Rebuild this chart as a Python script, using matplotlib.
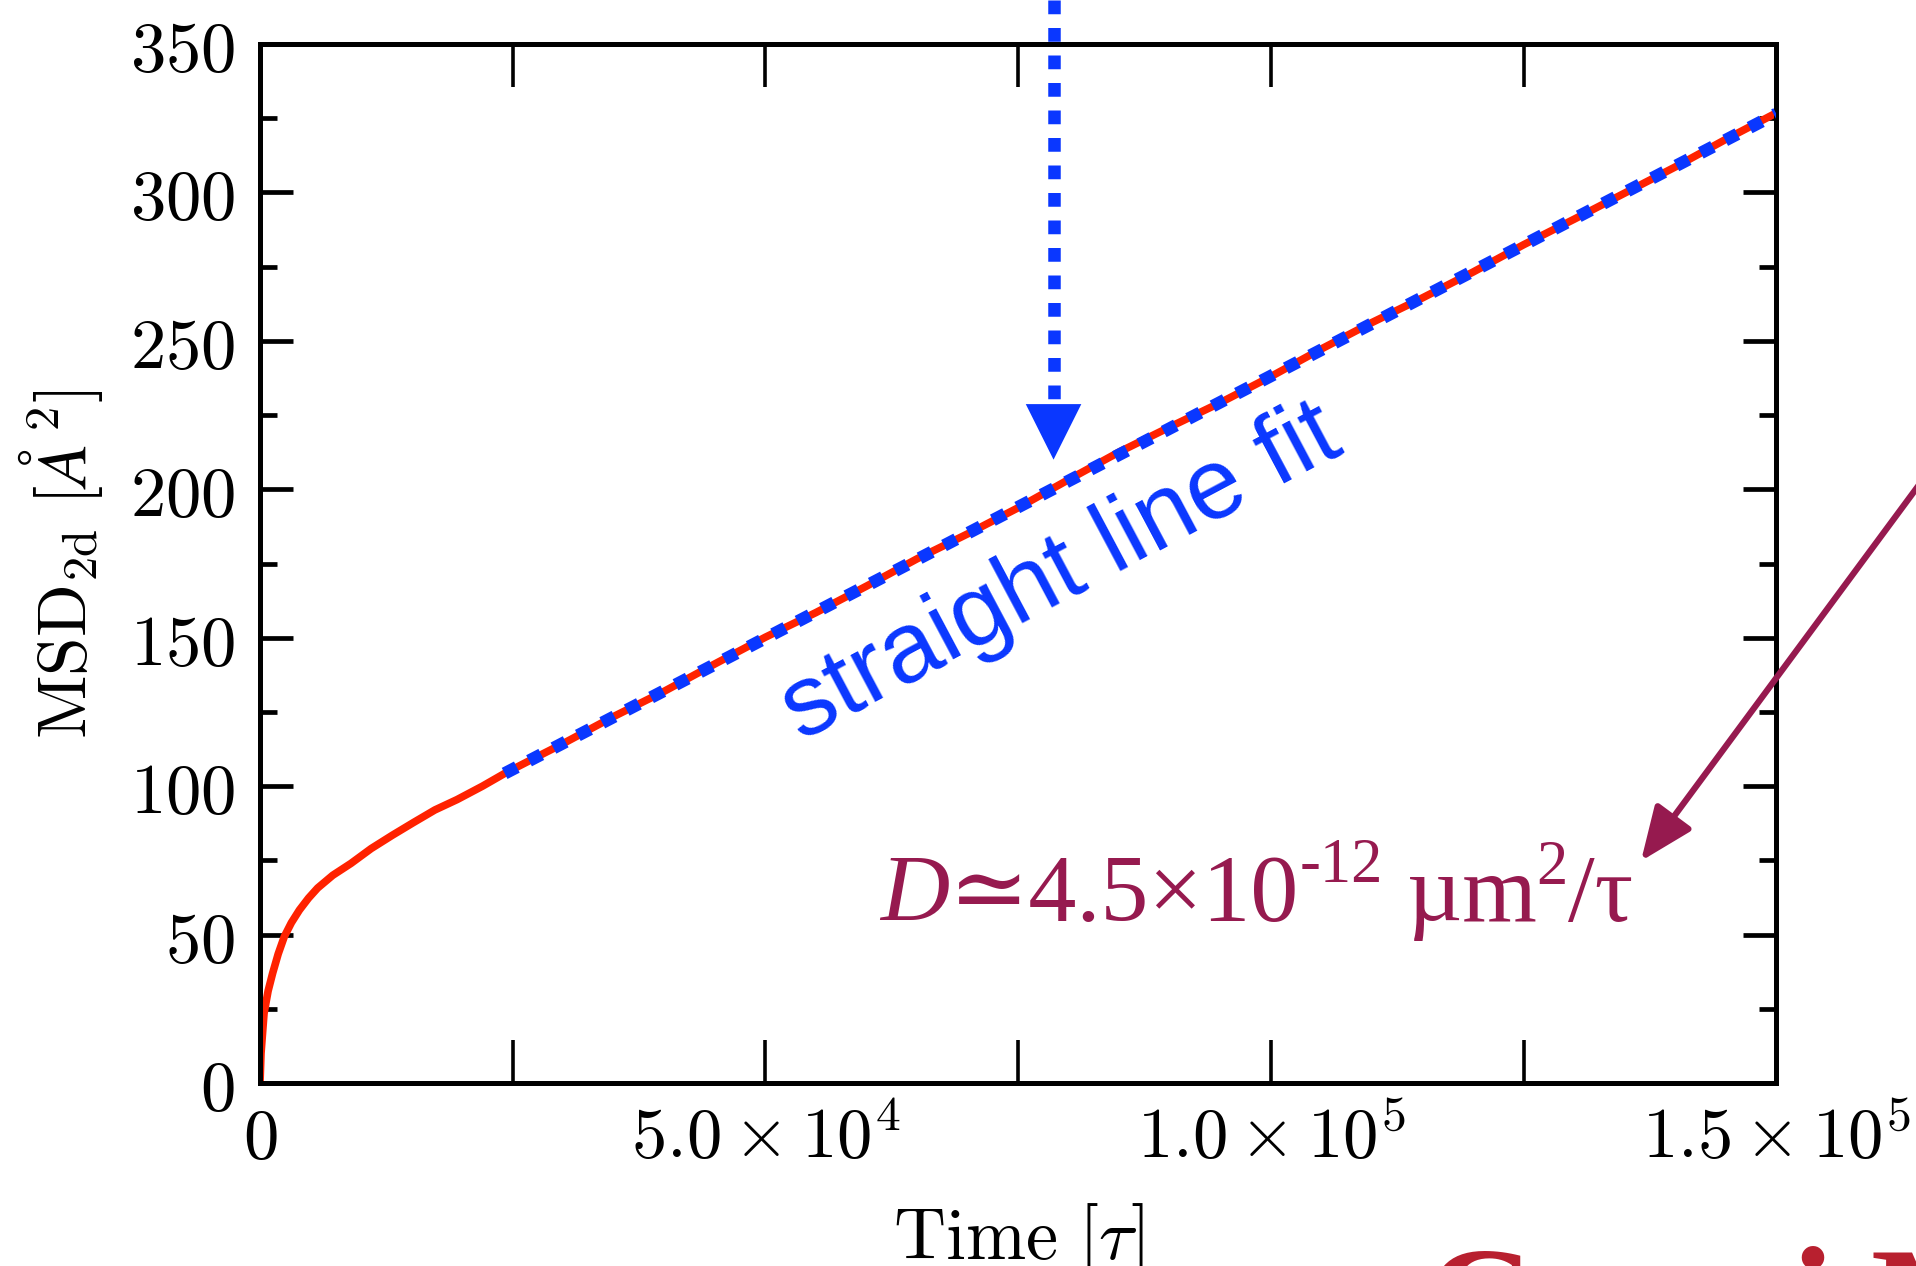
import numpy as np
import matplotlib.pyplot as plt

plt.rcParams['mathtext.fontset'] = 'cm'
plt.rcParams['font.family'] = ['DejaVu Serif']

# MSD curve
time = [0, 100, 400, 800, 1250, 1800, 2400, 3100, 3900, 4800, 5700, 7200,
        9000, 11000, 13100, 15200, 17300, 19500, 22000, 24200, 27000, 30000,
        35000, 40000, 45000, 50000, 55000, 60000, 65000, 70000, 75000, 80000,
        85000, 90000, 95000, 100000, 105000, 110000, 115000, 120000, 125000,
        130000, 135000, 140000, 145000, 150000]
msd = [0, 10, 23.5, 31, 37, 43.5, 49.3, 54, 58.3, 62.3, 65.7, 70,
       74, 79, 83.5, 87.8, 92, 95.5, 100, 104.3, 109.2, 114.4,
       123.5, 132.0, 141.2, 150.2, 158.5, 167.4, 176.6, 185.0, 193.8, 203.3,
       212.6, 221.0, 229.2, 238.0, 247.3, 256.2, 264.5, 273.2, 282.4,
       291.0, 299.8, 308.6, 317.9, 326.8]

# straight line fit
fit_time = [24200, 150000]
fit_msd = [104.3, 326.5]

# tick labels
xticks = [0, 25000, 50000, 75000, 100000, 125000, 150000]
xticklabels = [r'$0$', '', r'$5.0\times10^{4}$', '', r'$1.0\times10^{5}$', '',
               r'$1.5\times10^{5}$']
yticks = [0, 50, 100, 150, 200, 250, 300, 350]
yminor = [25, 75, 125, 175, 225, 275, 325]

# annotation anchors
arrow_t = 78500
arrow_tip = 210
arrow_top = 365

RED = '#ff2200'
BLUE = '#0a37ff'
PURPLE = '#961a4f'
SERIF = ['Liberation Serif', 'DejaVu Serif']

fig = plt.figure(figsize=(19.16, 12.66), dpi=100)
ax = fig.add_axes([0.1357, 0.1445, 0.7914, 0.8207])

ax.plot(time, msd, color=RED, lw=5.5, zorder=2)
ax.plot(fit_time, fit_msd, color=BLUE, lw=9, ls=(0, (1.1, 1.1)),
        dash_capstyle='butt', zorder=3)

ax.set_xlim(0, 150000)
ax.set_ylim(0, 350)

ax.set_xticks(xticks)
ax.set_xticklabels(xticklabels)
ax.set_yticks(yticks)
ax.set_yticklabels([r'$%d$' % v for v in yticks])
ax.set_yticks(yminor, minor=True)

ax.tick_params(axis='both', which='both', direction='in', top=True, right=True,
               labelsize=51, colors='black')
ax.tick_params(axis='x', which='major', length=31, width=2.6, pad=15)
ax.tick_params(axis='y', which='major', length=24, width=3.4, pad=18)
ax.tick_params(axis='y', which='minor', length=12, width=3.4)
for sp in ax.spines.values():
    sp.set_linewidth(3.6)

ax.set_xlabel(r'$\mathrm{Time}\ [\tau]$', fontsize=52, labelpad=20)
ax.set_ylabel(r'$\mathrm{MSD}_{\mathrm{2d}}\ [\AA^{2}]$', fontsize=50, labelpad=18)

# vertical dotted arrow
ax.plot([arrow_t, arrow_t], [arrow_top, arrow_tip + 17], color=BLUE, lw=9,
        ls=(0, (1.1, 1.1)), dash_capstyle='butt', clip_on=False, zorder=4)
ax.annotate('', xy=(arrow_t, arrow_tip), xytext=(arrow_t, arrow_tip + 25),
            arrowprops=dict(arrowstyle='-|>,head_length=0.4,head_width=0.2',
                            mutation_scale=100, color=BLUE, lw=0,
                            shrinkA=0, shrinkB=0), zorder=4)

ax.text(79300, 171.5, 'straight line fit', color=BLUE, fontsize=72,
        family=['Liberation Sans', 'DejaVu Sans'], rotation=28,
        rotation_mode='anchor', ha='center', va='center')

# diffusion coefficient, built from pieces so the baseline stays shared
big = 69
small = 45
p1 = ax.text(61300, 47.8, 'D', color=PURPLE, fontsize=big, family=SERIF,
             style='italic', ha='left', va='bottom')
p2 = ax.annotate('≃4.5×10', xy=(1, 0), xycoords=p1, color=PURPLE,
                 fontsize=big, family=SERIF, ha='left', va='bottom')
p3 = ax.annotate('-12', xy=(1, 0.52), xycoords=p2, color=PURPLE,
                 fontsize=small, family=SERIF, ha='left', va='bottom')
p4 = ax.annotate(' µm', xy=(1, 0), xycoords=(p3, p2), color=PURPLE,
                 fontsize=big, family=SERIF, ha='left', va='bottom')
p5 = ax.annotate('2', xy=(1, 0.5), xycoords=p4, color=PURPLE,
                 fontsize=small, family=SERIF, ha='left', va='bottom')
p6 = ax.annotate('/τ', xy=(1, 0), xycoords=(p5, p4), color=PURPLE,
                 fontsize=big, family=SERIF, ha='left', va='bottom')

ax.annotate('', xy=(1641, 1266 - 861), xycoords='figure pixels',
            xytext=(1930, 1266 - 470), textcoords='figure pixels',
            arrowprops=dict(arrowstyle='-|>,head_length=0.6,head_width=0.25',
                            mutation_scale=55, color=PURPLE, lw=4.5,
                            shrinkA=0, shrinkB=0), annotation_clip=False)

# large heading below the plot, mostly outside the canvas
fig.text(0.7437, -0.067, 'Cosmi Model', color='#b8202f', fontsize=108,
         family=['Liberation Serif'], weight='bold', ha='left', va='baseline')

fig.savefig('out.png', dpi=100)
